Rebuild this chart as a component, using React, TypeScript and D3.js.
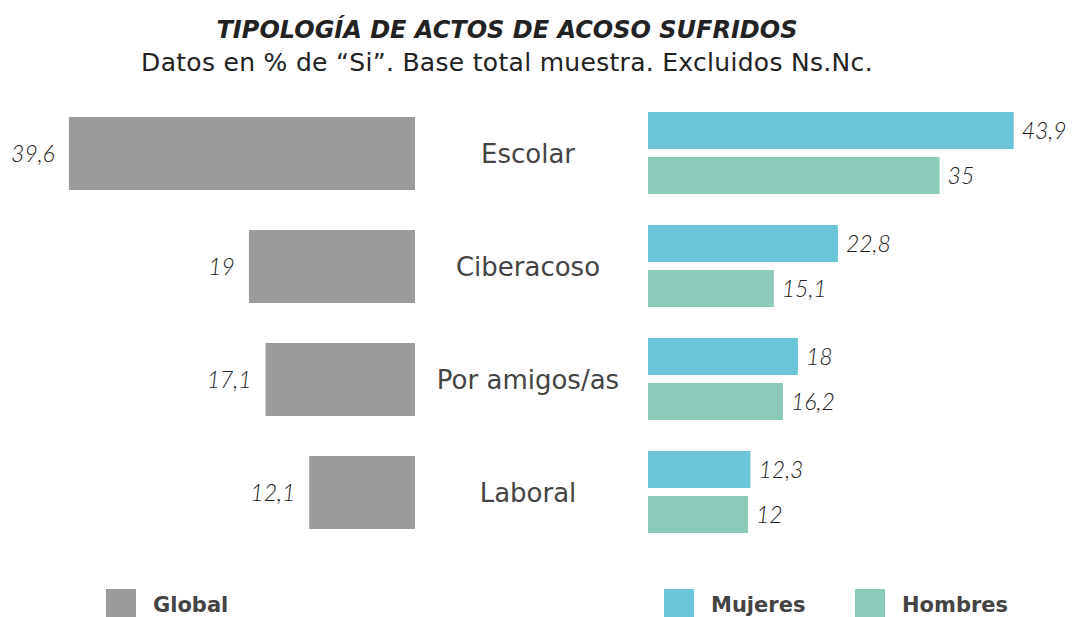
import { useRef, useEffect } from 'react';
import * as d3 from 'd3';

const categories = ['Escolar', 'Ciberacoso', 'Por amigos/as', 'Laboral'];
const globalValues = [39.6, 19, 17.1, 12.1];
const mujeresValues = [43.9, 22.8, 18, 12.3];
const hombresValues = [35, 15.1, 16.2, 12];
const genders = ['Mujeres', 'Hombres'];

const COLORS = { global: '#9b9b99', Mujeres: '#6bc5d8', Hombres: '#8ccbb9' };
const FONT = '"DejaVu Sans", sans-serif';
const VFONT = 'Lato, sans-serif';
const fmt = (v: number) => String(v).replace('.', ',');

export default function App() {
  const svgRef = useRef<SVGSVGElement>(null);

  useEffect(() => {
    const W = 1072, H = 617;
    const svg = d3.select(svgRef.current);
    svg.selectAll('*').remove();

    const y = d3.scaleBand<string>().domain(categories).range([112, 533]).paddingInner(31 / 113).paddingOuter(0);
    const ySub = d3.scaleBand<string>().domain(genders).range([0, y.bandwidth()]).paddingInner(8 / 45);
    const xGlobal = d3.scaleLinear().domain([0, 40]).range([415, 415 - 8.74 * 40]);
    const xGender = d3.scaleLinear().domain([0, 45]).range([648, 648 + 8.33 * 45]);

    // title
    svg.append('text').attr('x', 507).attr('y', 38).attr('text-anchor', 'middle')
      .attr('font-family', FONT).attr('font-size', 24).attr('font-weight', 700).attr('font-style', 'italic')
      .attr('fill', '#222').text('TIPOLOGÍA DE ACTOS DE ACOSO SUFRIDOS');
    svg.append('text').attr('x', 507).attr('y', 71).attr('text-anchor', 'middle')
      .attr('font-family', FONT).attr('font-size', 25).attr('fill', '#222').attr('letter-spacing', 0.3)
      .text('Datos en % de “Si”. Base total muestra. Excluidos Ns.Nc.');

    // global bars (left)
    const gGlobal = svg.append('g');
    categories.forEach((c, i) => {
      const v = globalValues[i];
      const top = y(c)! + 5;
      const h = y.bandwidth() - 9;
      gGlobal.append('rect').attr('x', xGlobal(v)).attr('y', top)
        .attr('width', xGlobal(0) - xGlobal(v)).attr('height', h).attr('fill', COLORS.global);
      gGlobal.append('text').attr('x', xGlobal(v) - 14).attr('y', top + h / 2 + 8)
        .attr('text-anchor', 'end').attr('font-family', VFONT).attr('font-size', 23)
        .attr('font-style', 'italic').attr('font-weight', 300).attr('fill', '#222').text(fmt(v));
      // category label
      svg.append('text').attr('x', 528).attr('y', y(c)! + y.bandwidth() / 2 + 10)
        .attr('text-anchor', 'middle').attr('font-family', FONT).attr('font-size', 26)
        .attr('fill', '#444').text(c);
    });

    // gender bars (right)
    const gGender = svg.append('g');
    categories.forEach((c, i) => {
      const vals: Record<string, number> = { Mujeres: mujeresValues[i], Hombres: hombresValues[i] };
      genders.forEach(g => {
        const v = vals[g];
        const top = y(c)! + ySub(g)!;
        gGender.append('rect').attr('x', xGender(0)).attr('y', top)
          .attr('width', xGender(v) - xGender(0)).attr('height', ySub.bandwidth())
          .attr('fill', (COLORS as any)[g]);
        gGender.append('text').attr('x', xGender(v) + 8).attr('y', top + ySub.bandwidth() / 2 + 8)
          .attr('font-family', VFONT).attr('font-size', 23).attr('font-style', 'italic')
          .attr('font-weight', 300).attr('fill', '#222').text(fmt(v));
      });
    });

    // legend
    const legend = [
      { key: 'Global', color: COLORS.global, x: 106 },
      { key: 'Mujeres', color: COLORS.Mujeres, x: 664 },
      { key: 'Hombres', color: COLORS.Hombres, x: 855 },
    ];
    const lg = svg.append('g');
    legend.forEach(d => {
      lg.append('rect').attr('x', d.x).attr('y', 589).attr('width', 30).attr('height', 28).attr('fill', d.color);
      lg.append('text').attr('x', d.x + 47).attr('y', 612).attr('font-family', FONT)
        .attr('font-size', 21).attr('font-weight', 700).attr('fill', '#444').text(d.key);
    });

    svg.attr('width', W).attr('height', H);
  }, []);

  return (
    <svg ref={svgRef} width={1072} height={617}
      style={{ position: 'absolute', left: 0, top: 0, background: '#fff', display: 'block' }} />
  );
}
